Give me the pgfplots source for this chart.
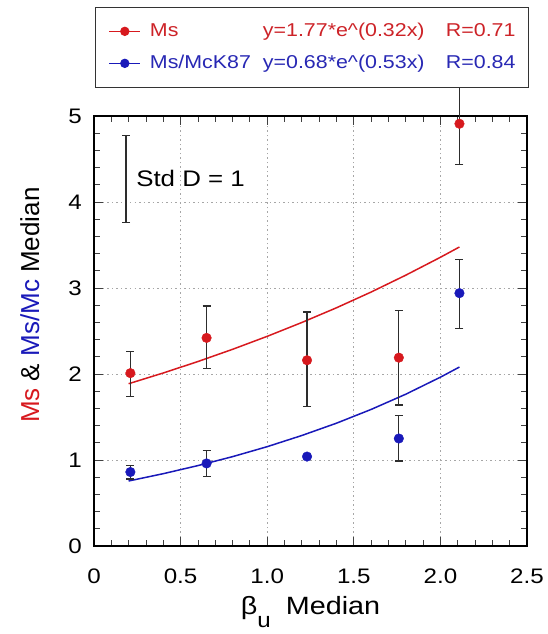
\documentclass[border=0pt]{standalone}
\usepackage{pgfplots}
\pgfplotsset{compat=1.18}
\usepackage{fontspec}
\setmainfont[FakeStretch=1.15]{Liberation Sans}
\newfontfamily\plainsans{Liberation Sans}
\definecolor{myred}{RGB}{215,25,30}
\definecolor{myblue}{RGB}{25,25,185}
\definecolor{txtred}{RGB}{205,35,40}
\definecolor{txtblue}{RGB}{40,40,180}
\definecolor{ebar}{RGB}{45,45,45}
\pgfplotstableread{
x y ep em
0.21 2.01 0.25 0.27
0.65 2.42 0.37 0.36
1.23 2.16 0.56 0.54
1.76 2.19 0.55 0.55
2.11 4.91 0.46 0.47
}\redtab
\pgfplotstableread{
x y ep em
0.21 0.86 0.08 0.08
0.65 0.96 0.15 0.15
1.23 1.04 0 0
1.76 1.25 0.27 0.26
2.11 2.94 0.39 0.41
}\bluetab
\begin{document}
\begin{tikzpicture}
\useasboundingbox (-94pt,-88pt) rectangle (454pt,546pt);
\begin{axis}[
  scale only axis, width=433pt, height=430pt,
  xmin=0, xmax=2.5, ymin=0, ymax=5,
  clip=false,
  axis line style={line width=1.6pt, black},
  xtick={0,0.5,1,1.5,2,2.5},
  xticklabels={0,0.5,1.0,1.5,2.0,2.5},
  ytick={0,1,2,3,4,5},
  yticklabels={0,1,2,3,4,5},
  /pgf/number format/assume math mode=true,
  minor x tick num=4, minor y tick num=4,
  tick align=inside, tick pos=both,
  major tick length=9pt, minor tick length=6pt,
  tick style={line width=0.8pt, black!75},
  grid=major,
  major grid style={gray!70, line width=0.8pt, dash pattern=on 1.5pt off 3pt},
  ticklabel style={font=\fontsize{21}{21}\selectfont},
  xticklabel style={anchor=base, yshift=-37pt},
  yticklabel style={inner xsep=0pt, xshift=-12pt},
  xlabel={β\raisebox{-13pt}{\fontsize{21}{21}\selectfont u}\hspace{0.6em}Median},
  xlabel style={at={(axis description cs:0.5,-0.16)}, anchor=base, font=\fontsize{25}{25}\selectfont},
  ylabel={\textcolor{myred}{Ms} \& \textcolor{myblue}{Ms/Mc} Median},
  ylabel style={at={(axis description cs:-0.148,0.56)}, anchor=center, font=\plainsans\fontsize{26}{26}\selectfont},
  legend image code/.code={\draw[#1, mark repeat=2, mark phase=2] plot coordinates {(0pt,0pt) (15.5pt,0pt) (31pt,0pt)};},
  legend style={at={(axis description cs:0,1)}, anchor=south west, xshift=1pt, yshift=28pt,
    draw=black!80, line width=1.3pt, inner xsep=13pt, inner ysep=15pt,
    font=\fontsize{18.6}{18.6}\selectfont,
    nodes={inner sep=0pt, text height=14pt, text depth=4pt},
    row sep=14pt, column sep=9pt},
  legend cell align=left,
  ebars/.style={draw=none, mark=none, forget plot,
    error bars/.cd, y dir=both, y explicit,
    error bar style={draw=ebar, solid, line width=1.3pt},
    error mark options={draw=ebar, solid, line width=1.3pt, mark size=4pt, rotate=90}},
]
% fit curves
\addplot[myred, line width=1.5pt, forget plot] coordinates {
(0.2,1.887)(0.4,2.012)(0.6,2.145)(0.8,2.287)(1.0,2.438)(1.2,2.599)(1.4,2.770)(1.6,2.953)(1.8,3.149)(2.0,3.357)(2.11,3.477)};
\addplot[myblue, line width=1.5pt, forget plot] coordinates {
(0.2,0.756)(0.4,0.841)(0.6,0.935)(0.8,1.039)(1.0,1.155)(1.2,1.285)(1.4,1.428)(1.6,1.588)(1.8,1.765)(2.0,1.963)(2.11,2.081)};
% error bars
\addplot[ebars] table[x=x, y=y, y error plus=ep, y error minus=em] {\redtab};
\addplot[ebars] table[x=x, y=y, y error plus=ep, y error minus=em] {\bluetab};
% Std D = 1 reference bar
\addplot[ebars] coordinates {(0.185,4.265) +- (0,0.505)};
% points
\addplot[only marks, mark=*, mark size=4.8pt, mark options={fill=myred, draw=myred}, forget plot] table[x=x, y=y] {\redtab};
\addplot[only marks, mark=*, mark size=4.8pt, mark options={fill=myblue, draw=myblue}, forget plot] table[x=x, y=y] {\bluetab};
\node[anchor=west, font=\fontsize{22.5}{22.5}\selectfont, inner sep=0pt] at (axis cs:0.243,4.27) {Std D = 1};
% legend
\addlegendimage{myred, line width=1.3pt, mark=*, mark size=4pt}
\addlegendentry{\makebox[113pt][l]{\textcolor{txtred}{Ms}}\makebox[183pt][l]{\textcolor{txtred}{y=1.77*e\textasciicircum(0.32x)}}\textcolor{txtred}{R=0.71}}
\addlegendimage{myblue, line width=1.3pt, mark=*, mark size=4pt}
\addlegendentry{\makebox[113pt][l]{\textcolor{txtblue}{Ms/McK87}}\makebox[183pt][l]{\textcolor{txtblue}{y=0.68*e\textasciicircum(0.53x)}}\textcolor{txtblue}{R=0.84}}
\end{axis}
\end{tikzpicture}
\end{document}
